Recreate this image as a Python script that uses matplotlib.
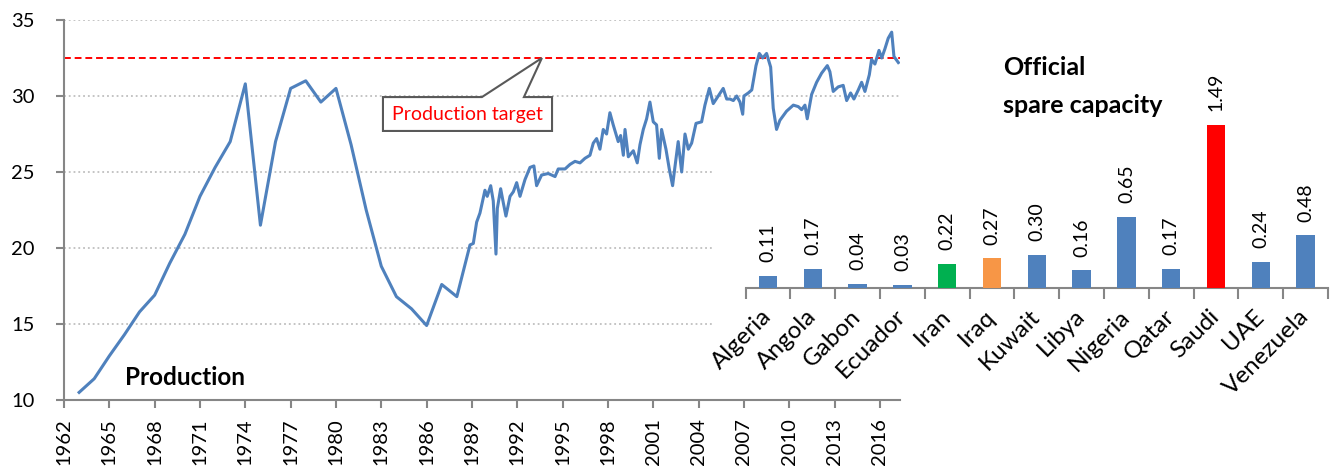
import matplotlib.pyplot as plt
from matplotlib.patches import Polygon
import numpy as np

plt.rcParams['font.family'] = ['Lato', 'DejaVu Sans']

# OPEC crude production (mb/d): annual to 1988, then monthly readings
annual_years = list(range(1963, 1989))
annual_prod = [10.5, 11.4, 12.9, 14.3, 15.8, 16.9, 19.0, 20.9, 23.4, 25.3, 27.0, 30.8, 21.5,
               27.0, 30.5, 31.0, 29.6, 30.5, 26.8, 22.5, 18.8, 16.8, 16.0, 14.9, 17.6, 16.8]

monthly_dates = [1988.87, 1989.09, 1989.31, 1989.53, 1989.86, 1990.01, 1990.24, 1990.41, 1990.59,
                 1990.68, 1990.90, 1991.07, 1991.25, 1991.52, 1991.74, 1991.96, 1992.18, 1992.51,
                 1992.84, 1993.10, 1993.28, 1993.61, 1994.05, 1994.50, 1994.71, 1995.16, 1995.49,
                 1995.82, 1996.15, 1996.48, 1996.81, 1997.03, 1997.25, 1997.47, 1997.69, 1997.91,
                 1998.13, 1998.35, 1998.68, 1998.84, 1999.02, 1999.13, 1999.35, 1999.68, 1999.94,
                 2000.12, 2000.34, 2000.56, 2000.78, 2001.00, 2001.22, 2001.40, 2001.55, 2001.84,
                 2002.06, 2002.28, 2002.43, 2002.65, 2002.88, 2003.10, 2003.32, 2003.54, 2003.83,
                 2004.20, 2004.42, 2004.71, 2004.97, 2005.30, 2005.63, 2005.86, 2006.08, 2006.30,
                 2006.52, 2006.74, 2006.92, 2007.00, 2007.29, 2007.52, 2007.80, 2008.02, 2008.24,
                 2008.50, 2008.77, 2008.94, 2009.16, 2009.38, 2009.82, 2010.27, 2010.60, 2010.82,
                 2011.04, 2011.19, 2011.48, 2011.81, 2012.14, 2012.52, 2012.69, 2012.91, 2013.24,
                 2013.57, 2013.80, 2014.06, 2014.28, 2014.57, 2014.79, 2015.01, 2015.30, 2015.45,
                 2015.67, 2015.94, 2016.12, 2016.33, 2016.55, 2016.78, 2016.93, 2017.22]
monthly_prod = [20.2, 20.3, 21.7, 22.3, 23.8, 23.4, 24.1, 23.1, 19.6,
                22.6, 23.9, 23.0, 22.1, 23.4, 23.7, 24.3, 23.4, 24.5,
                25.3, 25.4, 24.1, 24.8, 24.9, 24.7, 25.2, 25.2, 25.5,
                25.7, 25.6, 25.9, 26.1, 26.9, 27.2, 26.5, 27.8, 27.5,
                28.9, 28.1, 27.0, 27.4, 26.1, 27.8, 26.0, 26.4, 25.6,
                26.8, 27.8, 28.5, 29.6, 28.3, 28.1, 25.9, 27.8, 26.5,
                25.2, 24.1, 25.3, 27.0, 25.0, 27.5, 26.5, 26.9, 28.2,
                28.3, 29.4, 30.5, 29.5, 30.0, 30.5, 29.8, 29.8, 29.7,
                30.0, 29.6, 28.8, 30.0, 30.2, 30.4, 32.0, 32.8, 32.5,
                32.8, 31.9, 29.2, 27.8, 28.4, 29.0, 29.4, 29.3, 29.1,
                29.4, 28.5, 30.1, 30.9, 31.5, 32.0, 31.6, 30.3, 30.6,
                30.7, 29.7, 30.2, 29.8, 30.4, 30.9, 30.3, 31.4, 32.4,
                32.1, 33.0, 32.5, 33.1, 33.8, 34.2, 32.6, 32.2]

target = 32.5

# Official spare capacity by country (mb/d)
countries = ['Algeria', 'Angola', 'Gabon', 'Ecuador', 'Iran', 'Iraq', 'Kuwait', 'Libya',
             'Nigeria', 'Qatar', 'Saudi', 'UAE', 'Venezuela']
spare = [0.11, 0.17, 0.04, 0.03, 0.22, 0.27, 0.30, 0.16, 0.65, 0.17, 1.49, 0.24, 0.48]

BLUE = '#4F81BD'
GRAY = '#868686'
bar_colors = [BLUE] * len(countries)
bar_colors[countries.index('Iran')] = '#00B050'
bar_colors[countries.index('Iraq')] = '#F79646'
bar_colors[countries.index('Saudi')] = '#FF0000'

W, H = 1333, 467
fig = plt.figure(figsize=(W / 100, H / 100), dpi=100)

# main production chart
ax = fig.add_axes([64 / W, 1 - 400 / H, (900 - 64) / W, 380 / H])
ax.plot(annual_years + monthly_dates, annual_prod + monthly_prod, color=BLUE, lw=2.2,
        solid_joinstyle='round', zorder=3)
ax.axhline(target, color='red', ls=(0, (3.5, 2)), lw=1.4, zorder=2)

ax.set_xlim(1962, 2017.33)
ax.set_ylim(10, 35)
ax.set_xticks(np.arange(1962, 2017, 3))
ax.set_yticks(np.arange(10, 36, 5))
ax.tick_params(axis='x', labelrotation=90, length=6, width=1.5, color=GRAY,
               labelsize=14.5, pad=7)
ax.tick_params(axis='y', length=6, width=1.5, color=GRAY, labelsize=14.5, pad=15)
ax.yaxis.grid(True, ls=':', color='#BFBFBF', lw=1.3)
ax.set_axisbelow(True)
for s in ['top', 'right']:
    ax.spines[s].set_visible(False)
for s in ['left', 'bottom']:
    ax.spines[s].set_color(GRAY)
    ax.spines[s].set_linewidth(1.5)

# callout for the production target
x0, x1, y0, y1 = 1983.11, 1994.3, 27.7, 29.93
callout = Polygon([(x0, y0), (x1, y0), (x1, y1), (1992.44, y1), (1993.63, target),
                   (1989.66, y1), (x0, y1)], closed=True, facecolor='white',
                  edgecolor='#595959', lw=1.5, zorder=4)
ax.add_patch(callout)
ax.text((x0 + x1) / 2, (y0 + y1) / 2, 'Production target', color='red', fontsize=14,
        ha='center', va='center', zorder=5)

fig.text(125 / W, 1 - 385 / H, 'Production', fontweight='bold', fontsize=17.5, va='baseline')

# inset bar chart
ax2 = fig.add_axes([713 / W, 1 - 395 / H, (W - 713) / W, (395 - 150) / H], facecolor='white')
ax2.set_xlim(-1.228, 12.61)
ax2.set_ylim(-0.977, 1.26)
pos = np.arange(len(countries))
ax2.bar(pos, spare, width=0.41, color=bar_colors, clip_on=False, zorder=3)
for i, v in enumerate(spare):
    ax2.annotate(f'{v:.2f}', (i, v), xytext=(0, 10), textcoords='offset points',
                 rotation=90, ha='center', va='bottom', fontsize=14, annotation_clip=False)

for s in ['left', 'top', 'right']:
    ax2.spines[s].set_visible(False)
ax2.spines['bottom'].set_position(('data', 0))
ax2.spines['bottom'].set_bounds(-0.5, len(countries) - 0.5)
ax2.spines['bottom'].set_color(GRAY)
ax2.spines['bottom'].set_linewidth(1.5)
ax2.set_yticks([])
ax2.set_xticks(np.arange(-0.5, len(countries), 1))
ax2.set_xticklabels([])
ax2.tick_params(axis='x', which='major', length=8, width=1.5, color=GRAY)
ax2.set_xticks(pos, minor=True)
ax2.set_xticklabels(countries, minor=True, rotation=45, ha='right', va='center',
                    rotation_mode='anchor', fontsize=17.5)
ax2.tick_params(axis='x', which='minor', length=0, pad=18)

fig.text(1003 / W, 1 - 75 / H, 'Official', fontweight='bold', fontsize=18, va='baseline')
fig.text(1003 / W, 1 - 113 / H, 'spare capacity', fontweight='bold', fontsize=18,
         va='baseline')

fig.savefig('out.png', dpi=100)
